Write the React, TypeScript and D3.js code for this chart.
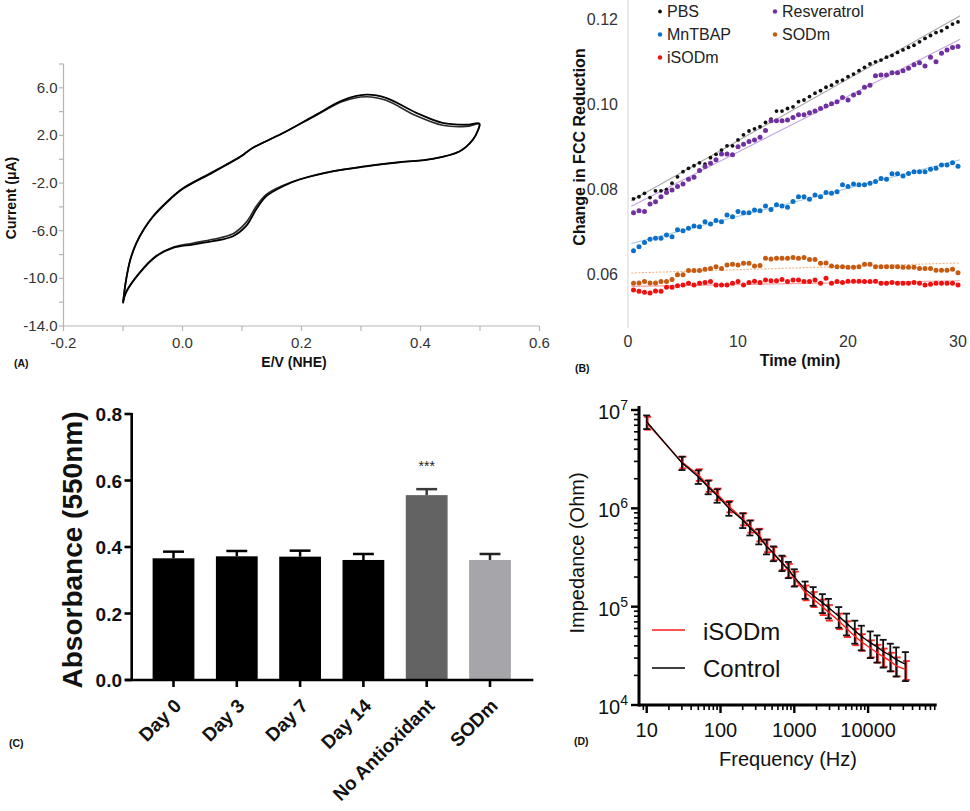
import React from 'react';
import * as d3 from 'd3';

const FONT = "'Liberation Sans', Arial, Helvetica, sans-serif";

// ---------- Panel A: cyclic voltammogram (E in V, I in µA) ----------
const cvCycle1: [number, number][] = [
  [-0.100, -12.1], [-0.095, -10.2], [-0.088, -8.5], [-0.078, -7.1], [-0.065, -5.9], [-0.050, -4.85], [-0.027, -3.65],
  [0.0, -2.5], [0.051, -1.1], [0.100, 0.3], [0.108, 0.6], [0.118, 0.95], [0.169, 2.2], [0.225, 3.75],
  [0.269, 4.95], [0.309, 5.42], [0.342, 5.15], [0.393, 3.9], [0.437, 3.05], [0.477, 2.9], [0.499, 3.0],
  [0.497, 2.5], [0.488, 1.66], [0.466, 0.68], [0.420, 0.04], [0.365, -0.24], [0.309, -0.58],
  [0.253, -1.0], [0.197, -1.7], [0.169, -2.26], [0.141, -3.1], [0.124, -4.2], [0.107, -5.6],
  [0.085, -6.46], [0.051, -6.88], [0.017, -7.16], [-0.016, -7.44], [-0.044, -8.14], [-0.072, -9.54],
  [-0.095, -11.2], [-0.100, -12.1],
];
const cvCycle2: [number, number][] = [
  [-0.100, -12.0], [-0.095, -10.15], [-0.088, -8.45], [-0.078, -7.05], [-0.065, -5.85], [-0.050, -4.8], [-0.027, -3.6],
  [0.0, -2.45], [0.051, -1.05], [0.100, 0.32], [0.108, 0.62], [0.118, 0.97], [0.169, 2.2], [0.225, 3.7],
  [0.269, 4.85], [0.309, 5.25], [0.342, 4.95], [0.393, 3.65], [0.437, 2.85], [0.477, 2.75], [0.499, 2.95],
  [0.497, 2.45], [0.488, 1.62], [0.466, 0.66], [0.420, 0.02], [0.365, -0.26], [0.309, -0.6],
  [0.253, -1.02], [0.197, -1.68], [0.169, -2.2], [0.141, -2.95], [0.124, -3.95], [0.107, -5.3],
  [0.085, -6.25], [0.051, -6.72], [0.017, -7.05], [-0.016, -7.38], [-0.044, -8.1], [-0.072, -9.5],
  [-0.095, -11.15], [-0.100, -12.0],
];
const cvYTicks = [-14, -10, -6, -2, 2, 6];
const cvYMinor = [-12, -8, -4, 0, 4, 8];
const cvXTicks = [-0.2, 0.0, 0.2, 0.4, 0.6];
const cvXMinor = [-0.1, 0.1, 0.3, 0.5];

// ---------- Panel B: FCC reduction vs time ----------
const fccTime = [
  0.5, 1, 1.5, 2, 2.5, 3, 3.5, 4, 4.5, 5, 5.5, 6, 6.5, 7, 7.5, 8, 8.5, 9, 9.5, 10,
  10.5, 11, 11.5, 12, 12.5, 13, 13.5, 14, 14.5, 15, 15.5, 16, 16.5, 17, 17.5, 18, 18.5, 19, 19.5, 20,
  20.5, 21, 21.5, 22, 22.5, 23, 23.5, 24, 24.5, 25, 25.5, 26, 26.5, 27, 27.5, 28, 28.5, 29, 29.5, 30,
];
const pbs = [
  0.0778, 0.0783, 0.0791, 0.0781, 0.0797, 0.0797, 0.0800, 0.0815, 0.0830, 0.0842, 0.0850, 0.0856, 0.0863, 0.0860, 0.0875,
  0.0883, 0.0893, 0.0903, 0.0903, 0.0917, 0.0929, 0.0938, 0.0943, 0.0948, 0.0958, 0.0966, 0.0985, 0.0985, 0.0991, 0.0995,
  0.1007, 0.1011, 0.1019, 0.1027, 0.1033, 0.1041, 0.1046, 0.1054, 0.1058, 0.1066, 0.1072, 0.1080, 0.1088, 0.1096, 0.1101,
  0.1105, 0.1112, 0.1116, 0.1123, 0.1129, 0.1135, 0.1140, 0.1148, 0.1156, 0.1163, 0.1170, 0.1174, 0.1182, 0.1190, 0.1195,
];
const resveratrol = [
  0.0745, 0.0750, 0.0748, 0.0766, 0.0771, 0.0783, 0.0793, 0.0799, 0.0807, 0.0813, 0.0824, 0.0829, 0.0845, 0.0854, 0.0862,
  0.0870, 0.0884, 0.0884, 0.0882, 0.0901, 0.0907, 0.0913, 0.0917, 0.0923, 0.0939, 0.0962, 0.0962, 0.0962, 0.0964, 0.0970,
  0.0976, 0.0976, 0.0981, 0.0985, 0.0991, 0.0997, 0.1002, 0.1007, 0.1017, 0.1011, 0.1023, 0.1028, 0.1041, 0.1046, 0.1068,
  0.1070, 0.1070, 0.1075, 0.1075, 0.1080, 0.1086, 0.1094, 0.1099, 0.1091, 0.1112, 0.1101, 0.1121, 0.1129, 0.1135, 0.1137,
];
const mntbap = [
  0.0656, 0.0665, 0.0675, 0.0683, 0.0685, 0.0685, 0.0693, 0.0689, 0.0705, 0.0703, 0.0709, 0.0714, 0.0712, 0.0724, 0.0719,
  0.0727, 0.0724, 0.0740, 0.0736, 0.0748, 0.0745, 0.0745, 0.0752, 0.0750, 0.0761, 0.0753, 0.0764, 0.0761, 0.0758, 0.0772,
  0.0783, 0.0783, 0.0777, 0.0787, 0.0783, 0.0793, 0.0791, 0.0795, 0.0811, 0.0807, 0.0813, 0.0811, 0.0811, 0.0815, 0.0819,
  0.0826, 0.0824, 0.0837, 0.0837, 0.0832, 0.0838, 0.0842, 0.0842, 0.0842, 0.0848, 0.0850, 0.0858, 0.0858, 0.0863, 0.0855,
];
const sodm = [
  0.0579, 0.0580, 0.0583, 0.0580, 0.0580, 0.0583, 0.0583, 0.0588, 0.0599, 0.0599, 0.0609, 0.0609, 0.0609, 0.0612, 0.0614,
  0.0618, 0.0614, 0.0622, 0.0624, 0.0622, 0.0626, 0.0626, 0.0620, 0.0621, 0.0638, 0.0636, 0.0638, 0.0638, 0.0638, 0.0640,
  0.0638, 0.0640, 0.0635, 0.0635, 0.0626, 0.0627, 0.0620, 0.0618, 0.0618, 0.0617, 0.0617, 0.0618, 0.0624, 0.0624, 0.0618,
  0.0618, 0.0618, 0.0618, 0.0618, 0.0617, 0.0617, 0.0617, 0.0614, 0.0614, 0.0614, 0.0610, 0.0610, 0.0610, 0.0612, 0.0604,
];
const isodm = [
  0.0563, 0.0560, 0.0558, 0.0556, 0.0561, 0.0560, 0.0570, 0.0570, 0.0573, 0.0575, 0.0579, 0.0575, 0.0579, 0.0581, 0.0583,
  0.0575, 0.0575, 0.0575, 0.0579, 0.0583, 0.0575, 0.0581, 0.0584, 0.0581, 0.0587, 0.0585, 0.0585, 0.0588, 0.0583, 0.0587,
  0.0587, 0.0583, 0.0583, 0.0587, 0.0579, 0.0591, 0.0579, 0.0583, 0.0581, 0.0584, 0.0584, 0.0584, 0.0583, 0.0583, 0.0584,
  0.0579, 0.0579, 0.0581, 0.0579, 0.0579, 0.0579, 0.0581, 0.0579, 0.0575, 0.0577, 0.0579, 0.0579, 0.0579, 0.0579, 0.0575,
];
const fccYTicks = [0.06, 0.08, 0.10, 0.12];
const fccXTicks = [0, 10, 20, 30];

// ---------- Panel C: absorbance bars ----------
const absCategories = ['Day 0', 'Day 3', 'Day 7', 'Day 14', 'No Antioxidant', 'SODm'];
const absMean = [0.366, 0.372, 0.371, 0.361, 0.556, 0.361];
const absErr = [0.020, 0.016, 0.018, 0.018, 0.018, 0.018];
const absYTicks = [0, 0.2, 0.4, 0.6, 0.8];

// ---------- Panel D: impedance ----------
const freqHz = [10, 30, 50, 68, 90, 130, 200, 250, 330, 420, 520, 680, 830, 1000, 1400, 1800, 2400, 2900,
  4000, 5100, 6600, 8100, 10700, 13200, 16000, 20000, 24000, 32000];
const controlZ = [7.6e6, 2.9e6, 2.1e6, 1.65e6, 1.35e6, 1.0e6, 7.6e5, 6.4e5, 5.2e5, 4.1e5, 3.5e5, 2.8e5, 2.4e5, 2.0e5,
  1.5e5, 1.3e5, 1.1e5, 9.8e4, 8.0e4, 6.8e4, 5.7e4, 5.0e4, 4.3e4, 3.9e4, 3.5e4, 3.2e4, 2.9e4, 2.6e4];
const controlSD = [1.2e6, 4.5e5, 3.3e5, 2.6e5, 2.1e5, 1.6e5, 1.3e5, 1.1e5, 9.0e4, 7.0e4, 6.0e4, 5.0e4, 4.5e4, 4.0e4,
  3.0e4, 2.8e4, 2.4e4, 2.2e4, 1.9e4, 1.7e4, 1.5e4, 1.4e4, 1.3e4, 1.2e4, 1.1e4, 1.0e4, 9.5e3, 8.5e3];
const isodmZ = [7.4e6, 2.95e6, 2.2e6, 1.7e6, 1.4e6, 1.05e6, 7.8e5, 6.6e5, 5.4e5, 4.2e5, 3.5e5, 2.8e5, 2.35e5, 1.95e5,
  1.4e5, 1.2e5, 1.0e5, 8.8e4, 7.2e4, 6.0e4, 5.0e4, 4.4e4, 3.8e4, 3.4e4, 3.1e4, 2.8e4, 2.5e4, 2.3e4];
const isodmSD = [1.1e6, 4.0e5, 3.0e5, 2.3e5, 1.9e5, 1.4e5, 1.1e5, 9.5e4, 8.0e4, 6.2e4, 5.2e4, 4.3e4, 3.7e4, 3.2e4,
  2.4e4, 2.1e4, 1.8e4, 1.6e4, 1.3e4, 1.1e4, 9.5e3, 8.5e3, 7.5e3, 7.0e3, 6.5e3, 6.0e3, 5.5e3, 5.0e3];
const impXTicks = [10, 100, 1000, 10000];
const impYTicks = [1e4, 1e5, 1e6, 1e7];

function linReg(xs: number[], ys: number[]): [number, number] {
  const mx = d3.mean(xs) as number;
  const my = d3.mean(ys) as number;
  let num = 0, den = 0;
  xs.forEach((x, i) => { num += (x - mx) * (ys[i] - my); den += (x - mx) * (x - mx); });
  const b = num / den;
  return [b, my - b * mx];
}

export default function App() {
  // ----- A -----
  const xA = d3.scaleLinear().domain([-0.2, 0.6]).range([63.5, 539.5]);
  const yA = d3.scaleLinear().domain([-14, 8]).range([326, 64]);
  const cvLine = d3.line<[number, number]>().x(d => xA(d[0])).y(d => yA(d[1])).curve(d3.curveCatmullRom.alpha(0.5));

  // ----- B -----
  const xB = d3.scaleLinear().domain([0, 30]).range([628, 958]);
  const yB = d3.scaleLinear().domain([0.06, 0.12]).range([274.4, 19.8]);
  const seriesB = [
    { name: 'PBS', vals: pbs, color: '#111111', trend: '#a8a8a8', r: 1.9, dash: '' },
    { name: 'Resveratrol', vals: resveratrol, color: '#7030a0', trend: '#c3a3e0', r: 2.5, dash: '' },
    { name: 'MnTBAP', vals: mntbap, color: '#0a70c8', trend: '#9cc8ec', r: 2.5, dash: '' },
    { name: 'SODm', vals: sodm, color: '#c55a11', trend: '#f2b184', r: 2.5, dash: '2,1.5' },
    { name: 'iSODm', vals: isodm, color: '#f01010', trend: '#f7a0a0', r: 2.5, dash: '' },
  ];
  const legendB = [
    { name: 'PBS', color: '#111111', x: 660, y: 17, r: 1.9 },
    { name: 'MnTBAP', color: '#0a70c8', x: 660, y: 40, r: 2.2 },
    { name: 'iSODm', color: '#f01010', x: 660, y: 63, r: 2.2 },
    { name: 'Resveratrol', color: '#7030a0', x: 775, y: 17, r: 2.2 },
    { name: 'SODm', color: '#c55a11', x: 775, y: 40, r: 2.2 },
  ];

  // ----- C -----
  const xC = d3.scaleBand<string>().domain(absCategories).range([141.85, 521.65]).paddingInner(0.34).paddingOuter(0.17);
  const yC = d3.scaleLinear().domain([0, 0.8]).range([680, 414]);
  const barColors = ['#000000', '#000000', '#000000', '#000000', '#636363', '#a6a6aa'];
  const errColors = ['#000000', '#000000', '#000000', '#000000', '#3a3a3a', '#222222'];

  // ----- D -----
  const xD = d3.scaleLog().domain([10, 100000]).range([646.7, 941.9]);
  const yD = d3.scaleLog().domain([1e4, 1e7]).range([705, 410]);
  const xMinorD: number[] = [];
  [10, 100, 1000, 10000].forEach(dec => { for (let k = 2; k <= 9; k++) { if (dec * k <= 85000) xMinorD.push(dec * k); } });
  xMinorD.push(9);
  const yMinorD: number[] = [];
  [1e4, 1e5, 1e6].forEach(dec => { for (let k = 2; k <= 9; k++) yMinorD.push(dec * k); });
  const impLine = (vals: number[]) => d3.line<number>().x((_, i) => xD(freqHz[i])).y(d => yD(d))(vals) as string;
  const supDigits: Record<number, string> = { 1e4: '4', 1e5: '5', 1e6: '6', 1e7: '7' };

  return (
    <svg width={970} height={811} style={{ position: 'absolute', left: 0, top: 0, background: '#fff' }} fontFamily={FONT}>
      <rect x={0} y={0} width={970} height={811} fill="#fff" />

      {/* ================= Panel A ================= */}
      <g>
        <line x1={xA(-0.2)} x2={xA(0.6)} y1={yA(-14)} y2={yA(-14)} stroke="#b5b5b5" strokeWidth={1.2} />
        <line x1={xA(-0.2)} x2={xA(-0.2)} y1={yA(-14)} y2={yA(8)} stroke="#b5b5b5" strokeWidth={1.2} />
        {cvYTicks.concat(cvYMinor).map(t => (
          <line key={'ayt' + t} x1={xA(-0.2) - 4.5} x2={xA(-0.2)} y1={yA(t)} y2={yA(t)} stroke="#b5b5b5" strokeWidth={1.2} />
        ))}
        {cvXTicks.concat(cvXMinor).map(t => (
          <line key={'axt' + t} x1={xA(t)} x2={xA(t)} y1={yA(-14)} y2={yA(-14) + 5} stroke="#b5b5b5" strokeWidth={1.2} />
        ))}
        {cvYTicks.map(t => (
          <text key={'ayl' + t} x={xA(-0.2) - 6} y={yA(t) + 5} fontSize={15} fill="#333" textAnchor="end">{t.toFixed(1)}</text>
        ))}
        {cvXTicks.map(t => (
          <text key={'axl' + t} x={xA(t)} y={348} fontSize={15} fill="#333" textAnchor="middle">{t.toFixed(1)}</text>
        ))}
        <path d={cvLine(cvCycle2) as string} fill="none" stroke="#2a2a2a" strokeWidth={1.6} />
        <path d={cvLine(cvCycle1) as string} fill="none" stroke="#000" strokeWidth={1.8} />
        <text x={294} y={367} fontSize={14} fontWeight="bold" fill="#111" textAnchor="middle">E/V (NHE)</text>
        <text transform="translate(16,198) rotate(-90)" fontSize={14} fontWeight="bold" fill="#111" textAnchor="middle">Current (μA)</text>
        <text x={14} y={367} fontSize={10.5} fontWeight="bold" fill="#111">(A)</text>
      </g>

      {/* ================= Panel B ================= */}
      <g>
        <line x1={628} x2={628} y1={0} y2={328} stroke="#dcdcdc" strokeWidth={1.2} />
        {fccYTicks.map(t => (
          <text key={'byl' + t} x={618} y={yB(t) + 5.5} fontSize={16} fill="#333" textAnchor="end">{t.toFixed(2)}</text>
        ))}
        {fccXTicks.map(t => (
          <text key={'bxl' + t} x={xB(t)} y={347} fontSize={16} fill="#333" textAnchor="middle">{t}</text>
        ))}
        {seriesB.map(s => {
          const [b, a] = linReg(fccTime, s.vals);
          return (
            <line key={'tr' + s.name} x1={xB(0.3)} x2={xB(30.2)} y1={yB(a + b * 0.3)} y2={yB(a + b * 30.2)}
              stroke={s.trend} strokeWidth={1.1} strokeDasharray={s.dash} />
          );
        })}
        {seriesB.map(s => (
          <g key={'pts' + s.name}>
            {s.vals.map((v, i) => (
              <circle key={i} cx={xB(fccTime[i])} cy={yB(v)} r={s.r} fill={s.color} />
            ))}
          </g>
        ))}
        {legendB.map(l => (
          <g key={'lg' + l.name}>
            <circle cx={l.x} cy={l.y - 5.5} r={l.r} fill={l.color} />
            <text x={l.x + 7} y={l.y} fontSize={16} fill="#222">{l.name}</text>
          </g>
        ))}
        <text x={800} y={366} fontSize={16} fontWeight="bold" fill="#111" textAnchor="middle">Time (min)</text>
        <text transform="translate(585,147) rotate(-90)" fontSize={16} fontWeight="bold" fill="#111" textAnchor="middle">Change in FCC Reduction</text>
        <text x={575} y={372} fontSize={10.5} fontWeight="bold" fill="#111">(B)</text>
      </g>

      {/* ================= Panel C ================= */}
      <g>
        {absCategories.map((c, i) => {
          const x0 = xC(c) as number;
          const w = xC.bandwidth();
          const cx = x0 + w / 2;
          return (
            <g key={'bar' + c}>
              <line x1={cx} x2={cx} y1={yC(absMean[i])} y2={yC(absMean[i] + absErr[i])} stroke={errColors[i]} strokeWidth={2.5} />
              <line x1={cx - w / 4} x2={cx + w / 4} y1={yC(absMean[i] + absErr[i])} y2={yC(absMean[i] + absErr[i])} stroke={errColors[i]} strokeWidth={2.5} />
              <rect x={x0} y={yC(absMean[i])} width={w} height={yC(0) - yC(absMean[i])} fill={barColors[i]} />
            </g>
          );
        })}
        <line x1={125} x2={533.3} y1={yC(0)} y2={yC(0)} stroke="#000" strokeWidth={2.6} />
        <line x1={131.7} x2={131.7} y1={yC(0.8) - 1} y2={yC(0)} stroke="#000" strokeWidth={2.6} />
        {absYTicks.map(t => (
          <g key={'cyt' + t}>
            <line x1={124.5} x2={131.7} y1={yC(t)} y2={yC(t)} stroke="#000" strokeWidth={2.6} />
            <text x={122} y={yC(t) + 7} fontSize={19} fontWeight="bold" fill="#111" textAnchor="end">{t.toFixed(1)}</text>
          </g>
        ))}
        {absCategories.map(c => {
          const cx = (xC(c) as number) + xC.bandwidth() / 2;
          return (
            <g key={'cxt' + c}>
              <line x1={cx} x2={cx} y1={yC(0)} y2={yC(0) + 7} stroke="#000" strokeWidth={2.6} />
              <text transform={`translate(${cx + 9},${707}) rotate(-45)`} fontSize={19} fontWeight="bold" fill="#111" textAnchor="end">{c}</text>
            </g>
          );
        })}
        <text x={(xC('No Antioxidant') as number) + xC.bandwidth() / 2} y={471} fontSize={14} fill="#222" textAnchor="middle">***</text>
        <text transform="translate(82,550) rotate(-90)" fontSize={28} fontWeight="bold" fill="#111" textAnchor="middle">Absorbance (550nm)</text>
        <text x={9} y={747} fontSize={10.5} fontWeight="bold" fill="#111">(C)</text>
      </g>

      {/* ================= Panel D ================= */}
      <g>
        {freqHz.map((f, i) => (
          <g key={'rerr' + i} stroke="#ff2a2a" strokeWidth={1.8}>
            <line x1={xD(f) + 1} x2={xD(f) + 1} y1={yD(isodmZ[i] + isodmSD[i])} y2={yD(isodmZ[i] - isodmSD[i])} />
            <line x1={xD(f) - 2.5} x2={xD(f) + 4.5} y1={yD(isodmZ[i] + isodmSD[i])} y2={yD(isodmZ[i] + isodmSD[i])} />
            <line x1={xD(f) - 2.5} x2={xD(f) + 4.5} y1={yD(isodmZ[i] - isodmSD[i])} y2={yD(isodmZ[i] - isodmSD[i])} />
          </g>
        ))}
        {freqHz.map((f, i) => (
          <g key={'kerr' + i} stroke="#111" strokeWidth={1.8}>
            <line x1={xD(f)} x2={xD(f)} y1={yD(controlZ[i] + controlSD[i])} y2={yD(controlZ[i] - controlSD[i])} />
            <line x1={xD(f) - 3.5} x2={xD(f) + 3.5} y1={yD(controlZ[i] + controlSD[i])} y2={yD(controlZ[i] + controlSD[i])} />
            <line x1={xD(f) - 3.5} x2={xD(f) + 3.5} y1={yD(controlZ[i] - controlSD[i])} y2={yD(controlZ[i] - controlSD[i])} />
          </g>
        ))}
        <path d={impLine(isodmZ)} fill="none" stroke="#ff1a1a" strokeWidth={1.4} />
        <path d={impLine(controlZ)} fill="none" stroke="#000" strokeWidth={1.4} />

        <line x1={639} x2={xD(85000)} y1={705} y2={705} stroke="#000" strokeWidth={3} />
        <line x1={639} x2={639} y1={406} y2={706.5} stroke="#000" strokeWidth={3} />
        {impYTicks.map(t => (
          <g key={'dyt' + t}>
            <line x1={631} x2={639} y1={yD(t)} y2={yD(t)} stroke="#000" strokeWidth={2.4} />
            <text x={628} y={yD(t) + 9} fontSize={20} fill="#111" textAnchor="end">
              <tspan>10</tspan>
              <tspan fontSize={14} dy={-9}>{supDigits[t]}</tspan>
            </text>
          </g>
        ))}
        {yMinorD.map(t => (
          <line key={'dym' + t} x1={634} x2={639} y1={yD(t)} y2={yD(t)} stroke="#000" strokeWidth={1.6} />
        ))}
        {impXTicks.map(t => (
          <g key={'dxt' + t}>
            <line x1={xD(t)} x2={xD(t)} y1={705} y2={713} stroke="#000" strokeWidth={2.4} />
            <text x={xD(t)} y={737} fontSize={20} fill="#111" textAnchor="middle">{t}</text>
          </g>
        ))}
        {xMinorD.map(t => (
          <line key={'dxm' + t} x1={xD(t)} x2={xD(t)} y1={705} y2={710} stroke="#000" strokeWidth={1.6} />
        ))}
        <line x1={652} x2={685} y1={630} y2={630} stroke="#ff1a1a" strokeWidth={1.5} />
        <text x={703} y={640} fontSize={24} fill="#111">iSODm</text>
        <line x1={652} x2={685} y1={668} y2={668} stroke="#000" strokeWidth={1.5} />
        <text x={703} y={677} fontSize={24} fill="#111">Control</text>
        <text x={788} y={766} fontSize={20} fill="#111" textAnchor="middle">Frequency (Hz)</text>
        <text transform="translate(584,553) rotate(-90)" fontSize={20} fill="#111" textAnchor="middle">Impedance (Ohm)</text>
        <text x={574} y={745} fontSize={10.5} fontWeight="bold" fill="#111">(D)</text>
      </g>
    </svg>
  );
}
